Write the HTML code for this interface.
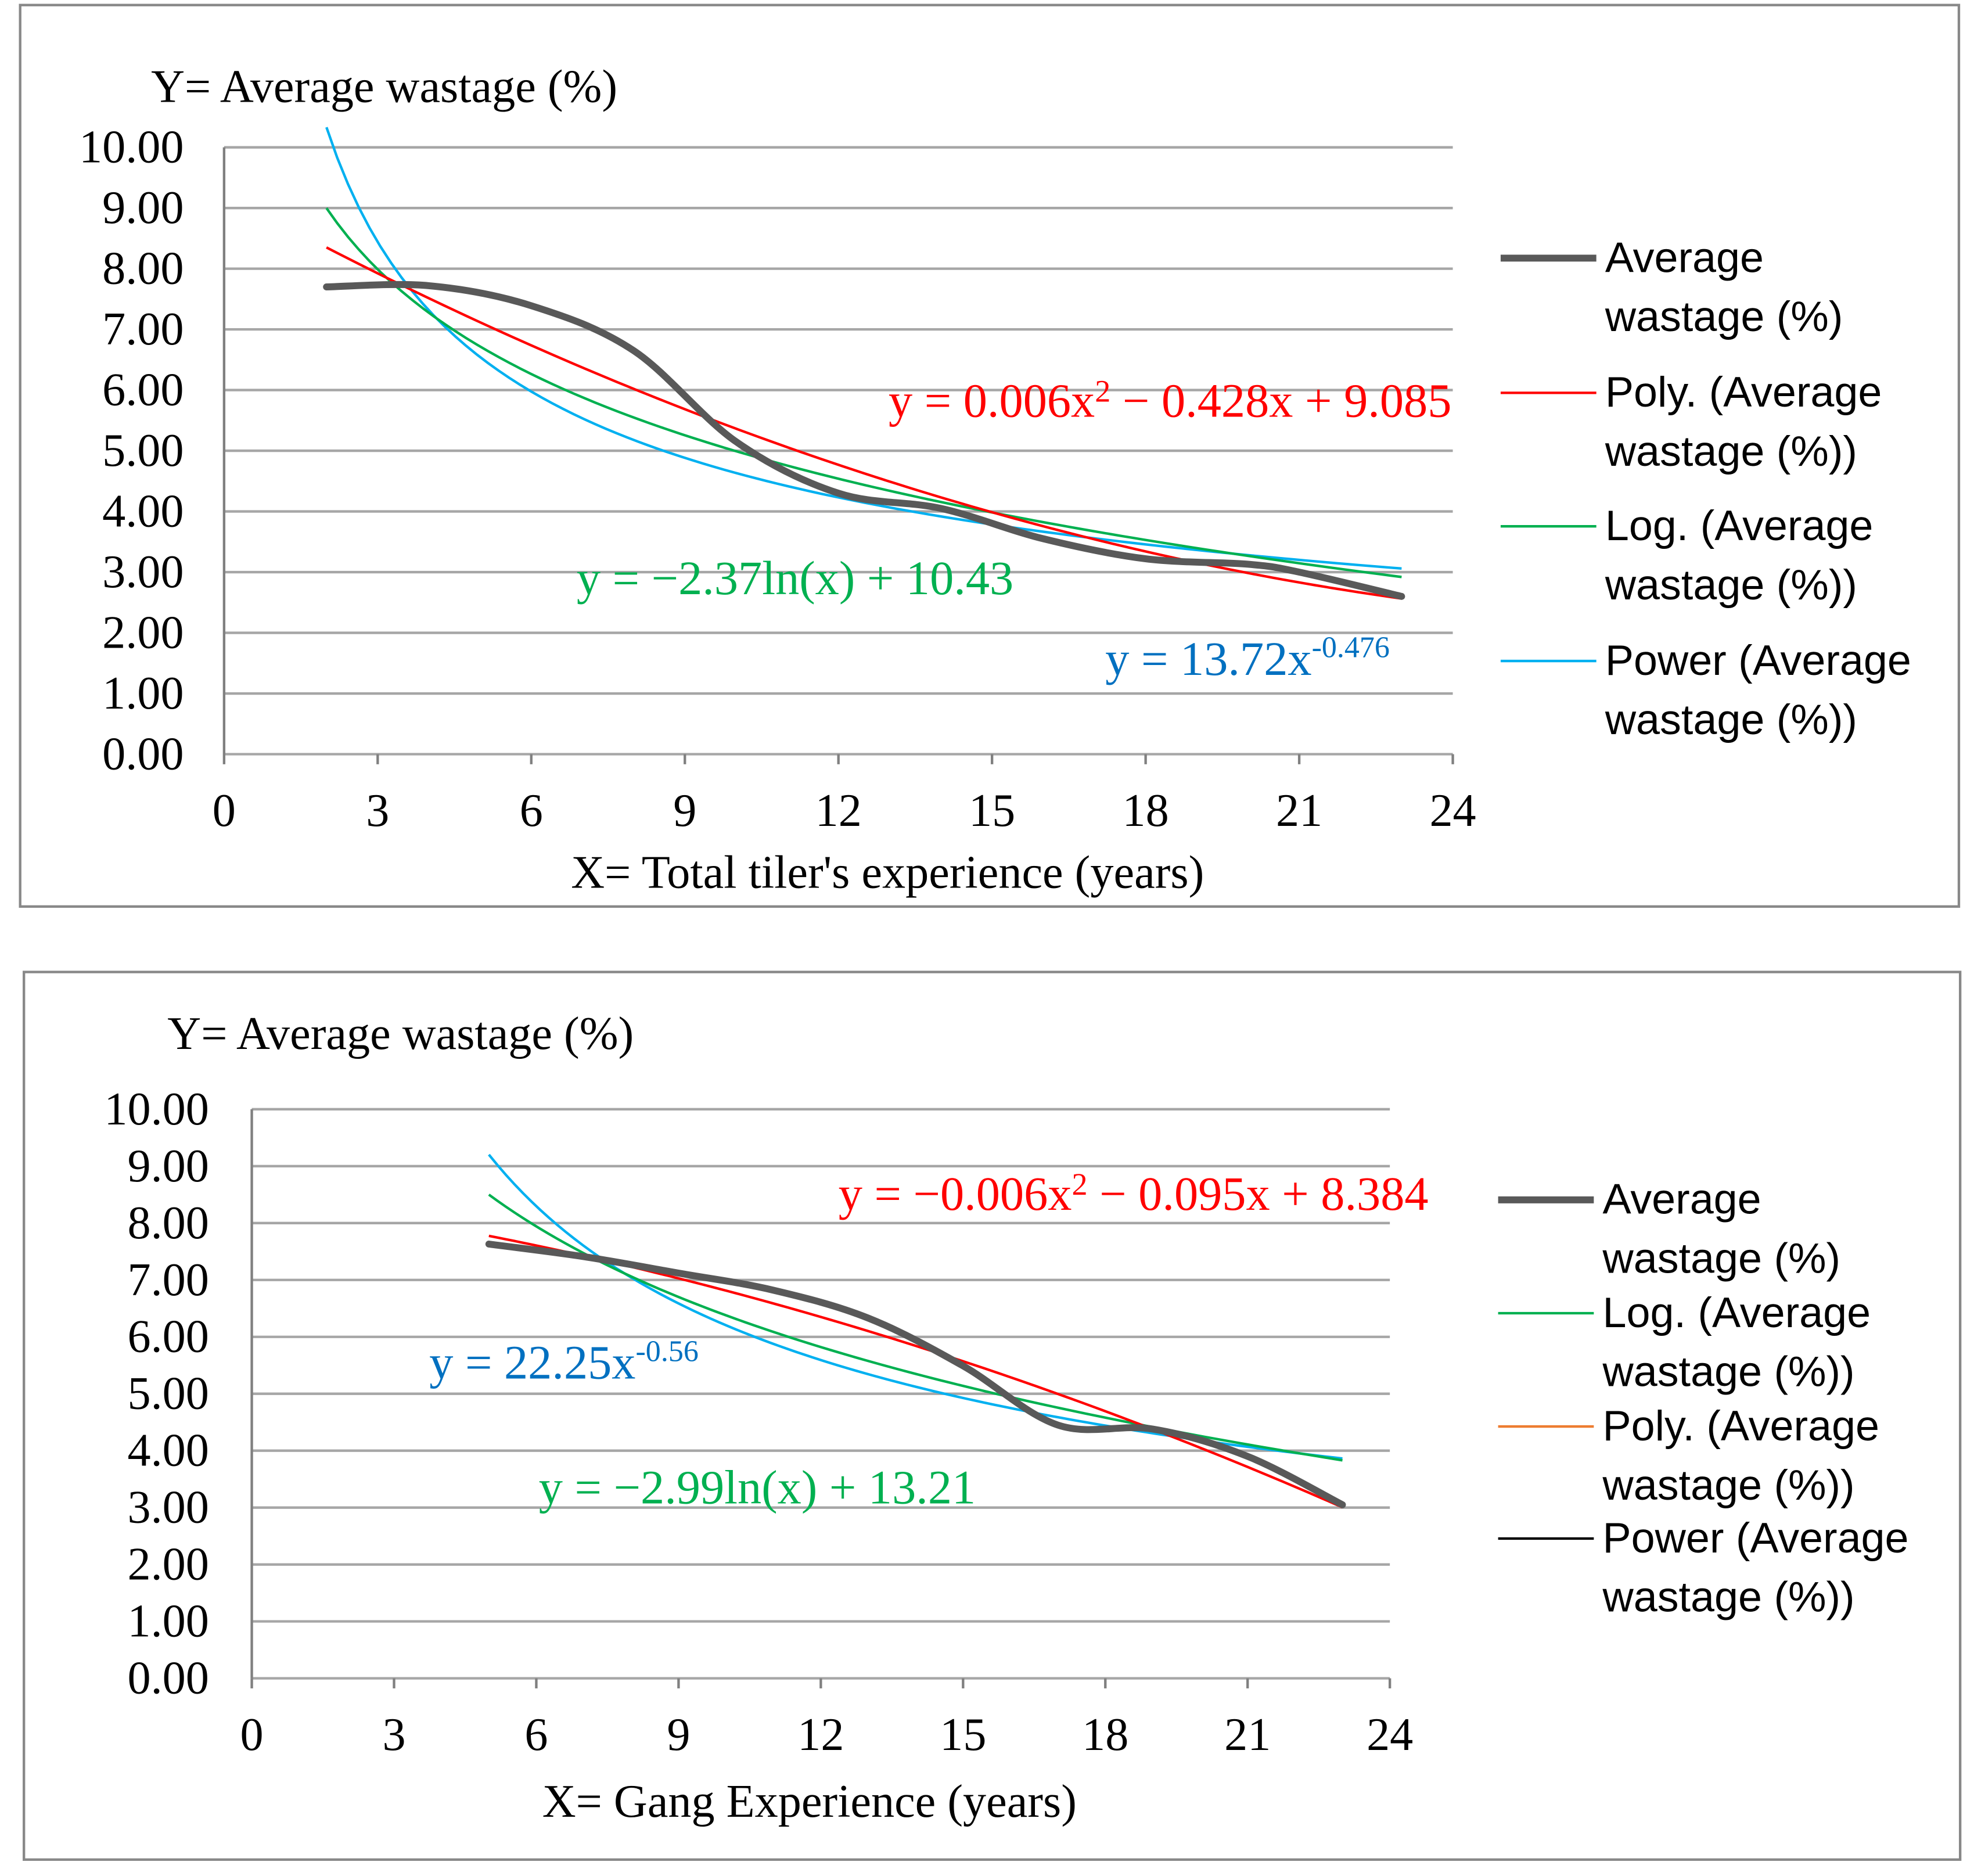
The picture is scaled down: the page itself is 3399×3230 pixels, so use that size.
<!DOCTYPE html>
<html><head><meta charset="utf-8"><style>
html,body{margin:0;padding:0;background:#fff;}
svg{display:block;}
.tk{font-family:"Liberation Serif",serif;font-size:37px;fill:#000;}
.lg{font-family:"Liberation Sans",sans-serif;font-size:34px;fill:#000;}
.eq{font-family:"Liberation Serif",serif;font-size:38px;}
</style></head><body>
<svg id="root" width="3399" height="3230" viewBox="0 0 1568 1490" xmlns="http://www.w3.org/2000/svg">
<rect x="0" y="0" width="1568" height="1490" fill="#fff"/>
<rect x="16" y="4" width="1540" height="716" fill="none" stroke="#888" stroke-width="2"/>
<rect x="19" y="772" width="1538" height="705" fill="none" stroke="#888" stroke-width="2"/>
<g id="c1"></g>
<g id="c2"></g>

<text class="tk" x="120" y="81">Y= Average wastage (%)</text>
<text class="tk" x="705" y="705" text-anchor="middle">X= Total tiler's experience (years)</text>
<text class="eq" x="1153" y="331" text-anchor="end" fill="#ff0000">y = 0.006x<tspan dy="-12" font-size="25">2</tspan><tspan dy="12"> − 0.428x + 9.085</tspan></text>
<text class="eq" x="458" y="472" fill="#00b050">y = −2.37ln(x) + 10.43</text>
<text class="eq" x="878" y="536" fill="#0070c0">y = 13.72x<tspan dy="-14" font-size="24">-0.476</tspan></text>

<text class="tk" x="133" y="833">Y= Average wastage (%)</text>
<text class="tk" x="643" y="1443" text-anchor="middle">X= Gang Experience (years)</text>
<text class="eq" x="666" y="961" fill="#ff0000">y = −0.006x<tspan dy="-12" font-size="25">2</tspan><tspan dy="12"> − 0.095x + 8.384</tspan></text>
<text class="eq" x="341" y="1095" fill="#0070c0">y = 22.25x<tspan dy="-14" font-size="24">-0.56</tspan></text>
<text class="eq" x="428" y="1194" fill="#00b050">y = −2.99ln(x) + 13.21</text>
</svg>
<script>
// Top chart data
const topX = [2, 4, 6, 8, 10, 12, 14, 16, 18, 20, 21, 23];
const topY = [7.70, 7.72, 7.39, 6.65, 5.15, 4.30, 4.05, 3.55, 3.22, 3.13, 3.00, 2.60];
// Bottom chart data
const botX = [5, 7, 9, 11, 13, 15, 17, 19, 21, 23];
const botY = [7.63, 7.41, 7.12, 6.82, 6.33, 5.49, 4.45, 4.38, 3.90, 3.05];
const xTicks = [0, 3, 6, 9, 12, 15, 18, 21, 24];
const yTicks = [0, 1, 2, 3, 4, 5, 6, 7, 8, 9, 10];
const topLegend = [["Average", "wastage (%)"], ["Poly. (Average", "wastage (%))"], ["Log. (Average", "wastage (%))"], ["Power (Average", "wastage (%))"]];
const botLegend = [["Average", "wastage (%)"], ["Log. (Average", "wastage (%))"], ["Poly. (Average", "wastage (%))"], ["Power (Average", "wastage (%))"]];

const NS = "http://www.w3.org/2000/svg";
function mk(parent, tag, attrs) {
  const e = document.createElementNS(NS, tag);
  for (const k in attrs) e.setAttribute(k, attrs[k]);
  parent.appendChild(e);
  return e;
}
function solve(A, b) {
  const n = b.length;
  const M = A.map((r, i) => r.concat([b[i]]));
  for (let i = 0; i < n; i++) {
    let p = i;
    for (let j = i + 1; j < n; j++) if (Math.abs(M[j][i]) > Math.abs(M[p][i])) p = j;
    [M[i], M[p]] = [M[p], M[i]];
    for (let j = i + 1; j < n; j++) {
      const f = M[j][i] / M[i][i];
      for (let k = i; k <= n; k++) M[j][k] -= f * M[i][k];
    }
  }
  const x = new Array(n).fill(0);
  for (let i = n - 1; i >= 0; i--) {
    let s = M[i][n];
    for (let k = i + 1; k < n; k++) s -= M[i][k] * x[k];
    x[i] = s / M[i][i];
  }
  return x;
}
function polyFit(xs, ys, deg) {
  const n = deg + 1;
  const A = [], b = [];
  for (let i = 0; i < n; i++) {
    A.push([]);
    for (let j = 0; j < n; j++) A[i].push(xs.reduce((s, x) => s + Math.pow(x, i + j), 0));
    b.push(xs.reduce((s, x, k) => s + Math.pow(x, i) * ys[k], 0));
  }
  return solve(A, b);
}
function smoothPath(pts) {
  let d = "M" + pts[0][0] + "," + pts[0][1];
  for (let i = 0; i < pts.length - 1; i++) {
    const p0 = pts[Math.max(0, i - 1)], p1 = pts[i], p2 = pts[i + 1], p3 = pts[Math.min(pts.length - 1, i + 2)];
    const t = 1 / 6;
    const c1 = [p1[0] + (p2[0] - p0[0]) * t, p1[1] + (p2[1] - p0[1]) * t];
    const c2 = [p2[0] - (p3[0] - p1[0]) * t, p2[1] - (p3[1] - p1[1]) * t];
    d += " C" + c1 + " " + c2 + " " + p2;
  }
  return d;
}
function chart(g, xs, ys, box, legend, legendColors, legendYs, lx, tickLx, trendOrder) {
  const sx = v => box.x0 + (v / 24) * (box.x1 - box.x0);
  const sy = v => box.y0 - (v / 10) * (box.y0 - box.y1);
  yTicks.forEach(t => {
    const l = mk(g, "line", {x1: sx(0), x2: box.x1, y1: sy(t), y2: sy(t), stroke: "#a6a6a6", "stroke-width": 2});
    
    
    const tx = mk(g, "text", {x: tickLx, y: sy(t) + 12, "text-anchor": "end", class: "tk"});
    tx.textContent = t.toFixed(2);
    
    
  });
  const ax = mk(g, "line", {x1: sx(0), x2: sx(0), y1: sy(0), y2: sy(10), stroke: "#808080", "stroke-width": 2});
  
  
  xTicks.forEach(t => {
    const l = mk(g, "line", {x1: sx(t), x2: sx(t), y1: sy(0), y2: sy(0) + 8, stroke: "#808080", "stroke-width": 2});
    
    
    const tx = mk(g, "text", {x: sx(t), y: sy(0) + 57, "text-anchor": "middle", class: "tk"});
    tx.textContent = t;
    
    
  });
  const xmin = Math.min(...xs), xmax = Math.max(...xs);
  const pc = polyFit(xs, ys, 2);
  const lc = polyFit(xs.map(Math.log), ys, 1);
  const wc = polyFit(xs.map(Math.log), ys.map(Math.log), 1);
  const trends = {
    power: x => Math.exp(wc[0]) * Math.pow(x, wc[1]),
    log: x => lc[0] + lc[1] * Math.log(x),
    poly: x => pc[0] + pc[1] * x + pc[2] * x * x
  };
  const tcol = {power: "#00b0f0", log: "#00b050", poly: "#ff0000"};
  trendOrder.forEach(k => {
    const pts = [];
    for (let i = 0; i <= 100; i++) {
      const x = xmin + (xmax - xmin) * i / 100;
      pts.push(sx(x).toFixed(2) + "," + sy(trends[k](x)).toFixed(2));
    }
    const pl = mk(g, "polyline", {points: pts.join(" "), fill: "none", stroke: tcol[k], "stroke-width": 2});
    
    
  });
  const p = mk(g, "path", {d: smoothPath(xs.map((x, i) => [sx(x), sy(ys[i])])), fill: "none", stroke: "#595959", "stroke-width": 5.5, "stroke-linecap": "round"});
  
  
  legend.forEach((lab, i) => {
    const y = legendYs[i];
    const l = mk(g, "line", {x1: lx, x2: lx + 76, y1: y, y2: y, stroke: legendColors[i], "stroke-width": i === 0 ? 5.5 : 2});
    
    
    const t1 = mk(g, "text", {x: lx + 83, y: y + 11, class: "lg"});
    t1.textContent = lab[0];
    
    
    const t2 = mk(g, "text", {x: lx + 83, y: y + 58, class: "lg"});
    t2.textContent = lab[1];
    
    
  });
}
chart(document.getElementById("c1"), topX, topY, {x0: 178, x1: 1154, y0: 599, y1: 117},
  topLegend, ["#595959", "#ff0000", "#00b050", "#00b0f0"], [205, 312, 418, 525], 1192, 146, ["power", "log", "poly"]);
chart(document.getElementById("c2"), botX, botY, {x0: 200, x1: 1104, y0: 1333, y1: 881},
  botLegend, ["#595959", "#00b050", "#ed7d31", "#000000"], [953, 1043, 1133, 1222], 1190, 166, ["power", "log", "poly"]);
</script>
</body></html>
